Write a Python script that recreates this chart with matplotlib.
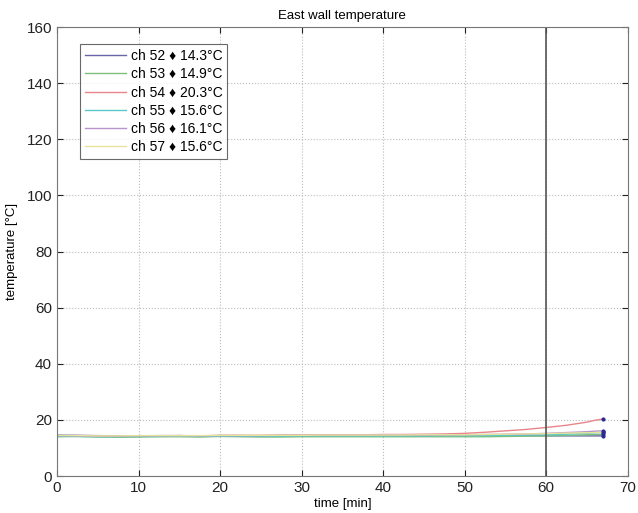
import matplotlib
matplotlib.use("Agg")
import matplotlib.pyplot as plt

plt.rcParams['font.family'] = ['Liberation Sans', 'DejaVu Sans']

time_min = [0, 2.5, 5, 7.5, 10, 12.5, 15, 17.5, 20, 22.5, 25, 27.5, 30, 32.5, 35,
            37.5, 40, 42.5, 45, 47.5, 50, 52.5, 55, 57.5, 60, 62.5, 65, 66, 67]

channels = ["ch 52", "ch 53", "ch 54", "ch 55", "ch 56", "ch 57"]
final_vals = ["14.3", "14.9", "20.3", "15.6", "16.1", "15.6"]

ch52 = [14.6, 14.5, 14.4, 14.3, 14.3, 14.4, 14.4, 14.3, 14.4, 14.4, 14.3, 14.4, 14.4, 14.4, 14.4,
        14.4, 14.4, 14.4, 14.4, 14.4, 14.4, 14.4, 14.4, 14.4, 14.3, 14.3, 14.3, 14.3, 14.3]
ch53 = [14.0, 14.1, 13.9, 13.8, 13.9, 14.0, 14.0, 13.9, 14.1, 14.0, 13.9, 13.9, 14.0, 14.0, 14.0,
        14.0, 14.0, 14.0, 14.0, 14.0, 14.0, 14.0, 14.1, 14.2, 14.3, 14.5, 14.7, 14.8, 14.9]
ch54 = [14.3, 14.4, 14.3, 14.2, 14.2, 14.3, 14.4, 14.3, 14.5, 14.5, 14.5, 14.6, 14.6, 14.7, 14.7,
        14.7, 14.8, 14.8, 14.9, 15.0, 15.2, 15.6, 16.1, 16.6, 17.3, 18.1, 19.2, 19.9, 20.3]
ch55 = [14.2, 14.1, 14.0, 14.0, 14.1, 14.1, 14.2, 14.1, 14.2, 14.2, 14.2, 14.2, 14.3, 14.3, 14.3,
        14.3, 14.3, 14.3, 14.3, 14.4, 14.4, 14.4, 14.5, 14.6, 14.7, 14.9, 15.2, 15.4, 15.6]
ch56 = [14.4, 14.3, 14.2, 14.2, 14.3, 14.3, 14.4, 14.3, 14.4, 14.4, 14.4, 14.5, 14.5, 14.5, 14.5,
        14.5, 14.6, 14.6, 14.6, 14.6, 14.7, 14.8, 14.9, 15.0, 15.2, 15.5, 15.8, 16.0, 16.1]
ch57 = [14.5, 14.4, 14.3, 14.3, 14.4, 14.4, 14.4, 14.4, 14.5, 14.5, 14.5, 14.5, 14.5, 14.6, 14.6,
        14.6, 14.6, 14.6, 14.7, 14.7, 14.7, 14.8, 14.9, 15.0, 15.1, 15.3, 15.4, 15.5, 15.6]
series = [ch52, ch53, ch54, ch55, ch56, ch57]
colors = ["#6a64a8", "#7cc07c", "#e8858a", "#5cc8cc", "#b894cc", "#e6e49a"]

fig = plt.figure(figsize=(6.38, 5.13), dpi=100)
ax = fig.add_axes([0.0893, 0.0721, 0.8947, 0.875])

for name, fv, ys, c in zip(channels, final_vals, series, colors):
    ax.plot(time_min, ys, color=c, lw=1.0, label=f"{name} \u2666 {fv}\u00b0C")
    ax.plot(time_min[-1], ys[-1], ".", color="#2a2a90", ms=4)

ax.axvline(60, color="#555555", lw=1.2)

ax.set_xlim(0, 70)
ax.set_ylim(0, 160)
ax.set_xticks(range(0, 71, 10))
ax.set_yticks(range(0, 161, 20))
ax.tick_params(direction="in", labelsize=11, colors="#222222", top=True, right=True, length=4)
ax.grid(True, linestyle=":", color="#bbbbbb", lw=0.8)
for s in ax.spines.values():
    s.set_color("#777777")
ax.set_xlabel("time [min]", fontsize=9.5, labelpad=2)
ax.set_ylabel("temperature [\u00b0C]", fontsize=9.5, labelpad=6)
ax.set_title("East wall temperature", fontsize=9.5, pad=6)

leg = ax.legend(loc="upper left", bbox_to_anchor=(0.04, 0.962), borderaxespad=0, fontsize=10,
                frameon=True, fancybox=False, edgecolor="#444444", handlelength=3.0,
                borderpad=0.35, labelspacing=0.3, handletextpad=0.3)
leg.get_frame().set_linewidth(0.8)

fig.savefig("out.png", dpi=100)
